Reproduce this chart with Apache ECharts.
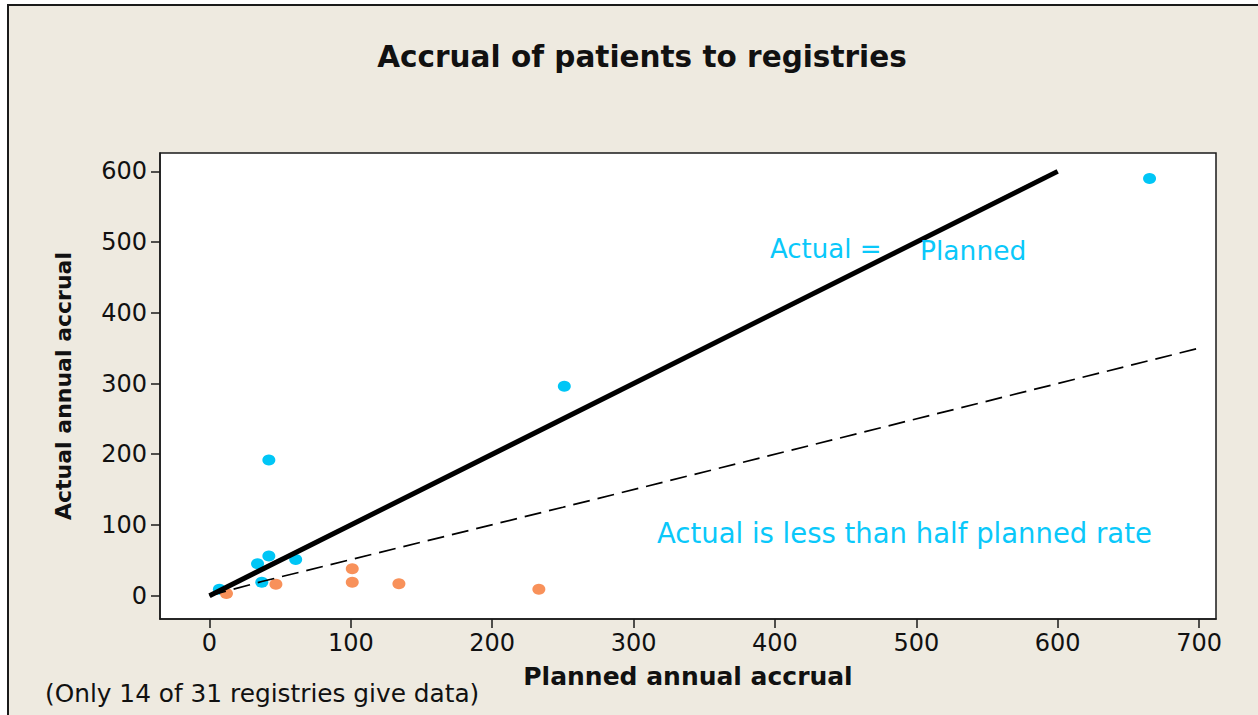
<!DOCTYPE html>
<html>
<head>
<meta charset="utf-8">
<script src="https://cdn.jsdelivr.net/npm/echarts@6/dist/echarts.min.js"></script>
<style>
  html, body { margin: 0; padding: 0; background: #ffffff; }
  #bg { position: absolute; left: 7px; top: 4px; width: 1251px; height: 711px;
        background: #EEEAE0; border-left: 2px solid #1a1a1a; border-top: 2px solid #1a1a1a; }
  #chart { position: absolute; left: 0; top: 0; width: 1258px; height: 715px; }
</style>
</head>
<body>
<div id="bg"></div>
<div id="chart"></div>
<script>
// ---- data ----
const titleText = 'Accrual of patients to registries';
const xAxisName = 'Planned annual accrual';
const yAxisName = 'Actual annual accrual';
const footnote = '(Only 14 of 31 registries give data)';
const xTicks = [0, 100, 200, 300, 400, 500, 600, 700];
const yTicks = [0, 100, 200, 300, 400, 500, 600];

// registries meeting at least half the planned rate (cyan)
const metX = [7, 34, 37, 42, 42, 61, 251, 665];
const metY = [9, 45, 19, 56, 192, 51, 296, 590];
// registries below half the planned rate (orange)
const belowX = [12, 47, 101, 101, 134, 233];
const belowY = [3, 16, 38, 19, 17, 9];

// reference lines
const equalLineX = [0, 600];
const equalLineY = [0, 600];
const halfLineX = [0, 37, 250, 700];
const halfLineY = [0, 20, 125, 350];

const annotEqualLeft = 'Actual =';
const annotEqualRight = 'Planned';
const annotHalf = 'Actual is less than half planned rate';

// ---- chart ----
const zip = (xs, ys) => xs.map((x, i) => [x, ys[i]]);
const FONT = 'DejaVu Sans';
const CYAN = '#00C6F6';
const ORANGE = '#F8915A';
const TEXT_CYAN = '#0AC8FA';

const chart = echarts.init(document.getElementById('chart'), null, { renderer: 'svg' });
chart.setOption({
  backgroundColor: 'transparent',
  animation: false,
  textStyle: { fontFamily: FONT },
  grid: {
    left: 160, top: 153, right: 42, bottom: 96,
    show: true, backgroundColor: '#ffffff', borderColor: '#1a1a1a', borderWidth: 1.5
  },
  xAxis: {
    type: 'value', min: -35, max: 712,
    name: xAxisName, nameLocation: 'middle', nameGap: 45,
    nameTextStyle: { fontFamily: FONT, fontWeight: 'bold', fontSize: 25, color: '#111' },
    axisLine: { show: true, onZero: false, lineStyle: { color: '#1a1a1a', width: 1.5 } },
    axisTick: { show: true, length: 9, customValues: xTicks, lineStyle: { color: '#1a1a1a', width: 1.5 } },
    axisLabel: { customValues: xTicks, margin: 12, fontSize: 24, color: '#111', fontFamily: FONT },
    splitLine: { show: false }
  },
  yAxis: {
    type: 'value', min: -33, max: 626,
    name: yAxisName, nameLocation: 'middle', nameGap: 86,
    nameTextStyle: { fontFamily: FONT, fontWeight: 'bold', fontSize: 22, color: '#111' },
    axisLine: { show: true, onZero: false, lineStyle: { color: '#1a1a1a', width: 1.5 } },
    axisTick: { show: true, length: 9, customValues: yTicks, lineStyle: { color: '#1a1a1a', width: 1.5 } },
    axisLabel: { customValues: yTicks, margin: 13, fontSize: 24, color: '#111', fontFamily: FONT },
    splitLine: { show: false }
  },
  series: [
    {
      type: 'scatter', data: zip(metX, metY), symbol: 'circle', symbolSize: [13, 11],
      itemStyle: { color: CYAN, opacity: 1 }, z: 2
    },
    {
      type: 'scatter', data: zip(belowX, belowY), symbol: 'circle', symbolSize: [13, 11],
      itemStyle: { color: ORANGE, opacity: 1 }, z: 2
    },
    {
      type: 'line', data: zip(equalLineX, equalLineY), showSymbol: false, symbol: 'none',
      lineStyle: { color: '#000', width: 5 }, z: 3
    },
    {
      type: 'line', data: zip(halfLineX, halfLineY), showSymbol: false, symbol: 'none',
      lineStyle: { color: '#000', width: 1.7, type: [17, 8] }, z: 3
    }
  ],
  graphic: [
    { type: 'text', x: 642, y: 57, z: 10,
      style: { text: titleText, font: 'bold 29.5px "DejaVu Sans"', fill: '#111', align: 'center', verticalAlign: 'middle' } },
    { type: 'text', x: 770, y: 249, z: 10,
      style: { text: annotEqualLeft, font: '26px "DejaVu Sans"', fill: TEXT_CYAN, align: 'left', verticalAlign: 'middle' } },
    { type: 'text', x: 920, y: 250, z: 10,
      style: { text: annotEqualRight, font: '26.5px "DejaVu Sans"', fill: TEXT_CYAN, align: 'left', verticalAlign: 'middle' } },
    { type: 'text', x: 657, y: 533, z: 10,
      style: { text: annotHalf, font: '27.5px "DejaVu Sans"', fill: TEXT_CYAN, align: 'left', verticalAlign: 'middle' } },
    { type: 'text', x: 45, y: 693, z: 10,
      style: { text: footnote, font: '24.8px "DejaVu Sans"', fill: '#111', align: 'left', verticalAlign: 'middle' } }
  ]
});
</script>
</body>
</html>
